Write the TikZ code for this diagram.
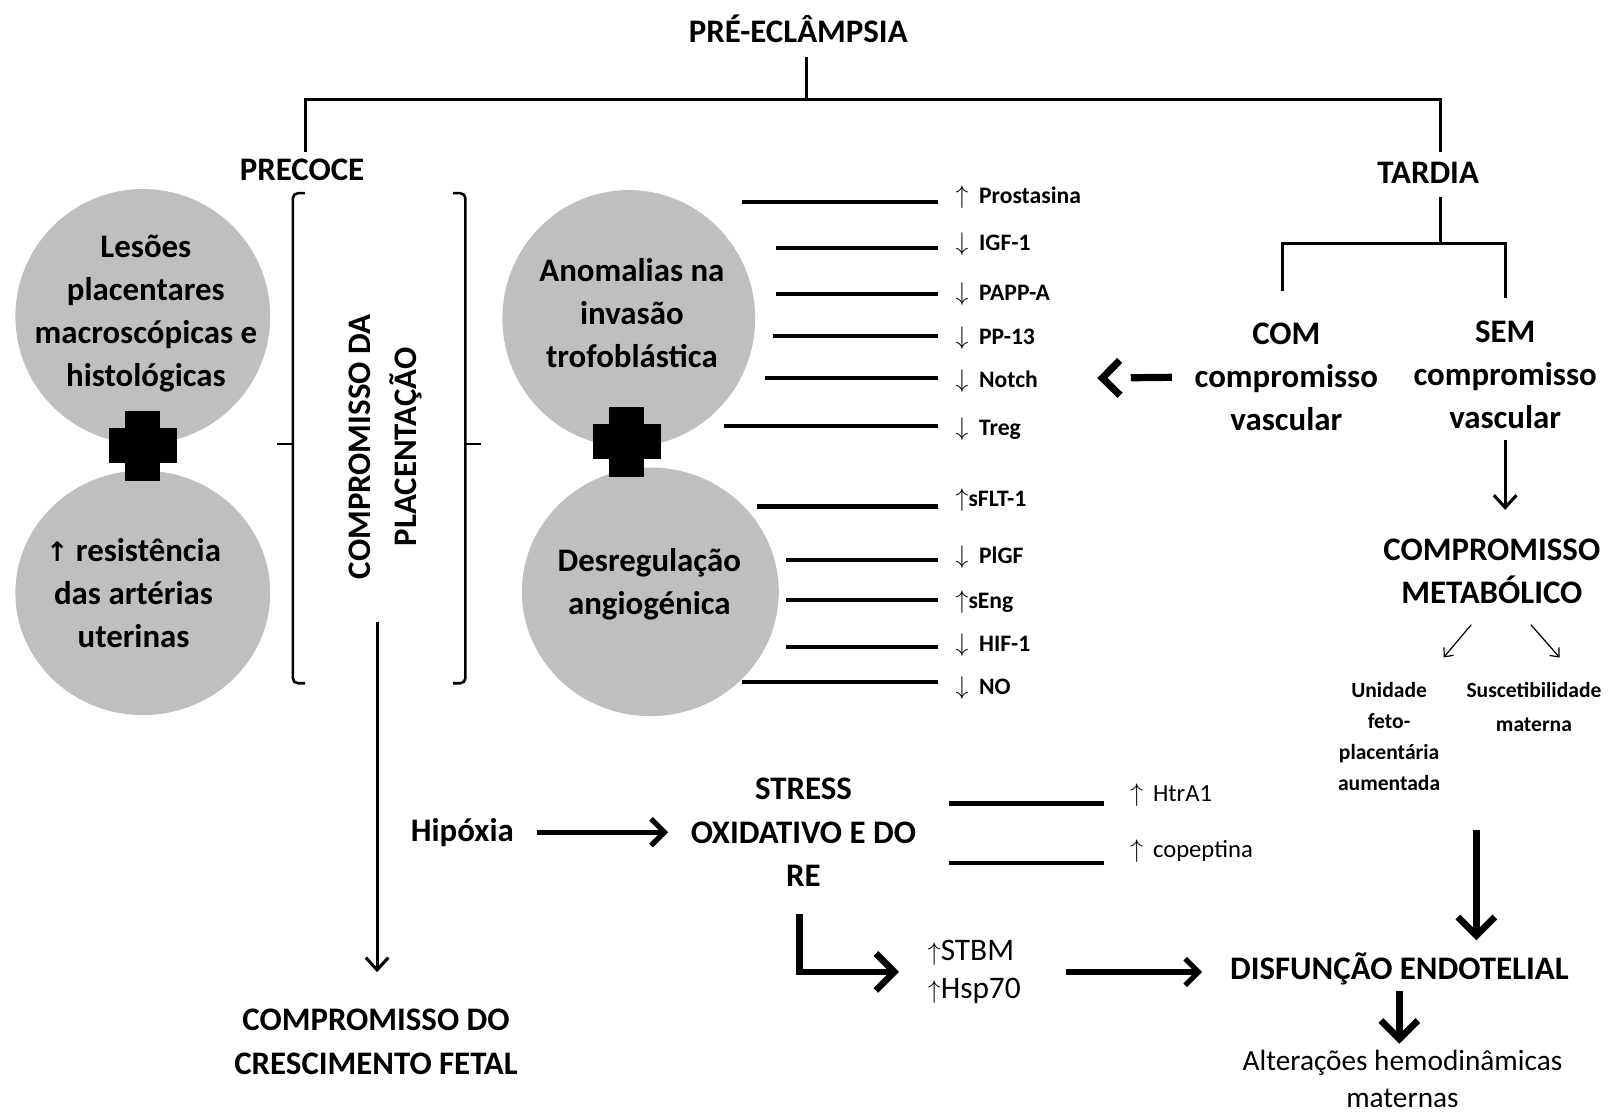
\documentclass[tikz,border=0pt]{standalone}
\usepackage{fontspec}
\setmainfont{Carlito}
\newfontfamily\arrowfont{DejaVu Sans}
\usetikzlibrary{arrows.meta,positioning,calc}
\definecolor{BlobGray}{RGB}{191,191,191}
\newcommand{\incr}{$\uparrow$}
\newcommand{\decr}{$\downarrow$}

\begin{document}
\begin{tikzpicture}[x=1pt,y=-1pt,
  headtxt/.style={font=\fontsize{32}{42}\selectfont\bfseries,
                  align=center,inner sep=0pt},
  smalltxt/.style={font=\fontsize{23}{30}\selectfont\bfseries,
                   align=center,inner sep=0pt},
  regtxt/.style={font=\fontsize{28.5}{37}\selectfont,
                 align=center,inner sep=0pt},
  tree/.style={line width=3pt},
  markline/.style={line width=4pt},
  bracket/.style={line width=2.5pt,rounded corners=5pt},
  arr/.style={line width=3pt,-{Straight Barb[length=12pt,width=22pt]}},
  midarr/.style={line width=5pt,-{Straight Barb[length=13pt,width=26pt]}},
  fatarr/.style={line width=6.5pt,-{Straight Barb[length=18pt,width=36pt]}},
  thinarr/.style={line width=1.2pt,-{Straight Barb[length=7pt,width=12pt]}}]
  \useasboundingbox (0,0) rectangle (1568,1082);

  %% Top of the tree
  \node[headtxt] (pe) at (777,28) {PRÉ-ECLÂMPSIA};
  \node[headtxt] (precoce) at (294,165) {PRECOCE};
  \node[headtxt] (tardia) at (1390,168) {TARDIA};
  \coordinate (pe-foot) at (785,55);
  \coordinate (pe-split) at (785,97);
  \coordinate (pre-top) at (297,148);
  \coordinate (tar-top) at (1402,148);
  \draw[tree] (pe-foot) -- (pe-split);
  \draw[tree] (pre-top) |- (pe-split) -| (tar-top);

  %% Late branch: with / without vascular damage
  \node[headtxt] (com) at (1252,367) {COM\\compromisso\\vascular};
  \node[headtxt] (sem) at (1465,365) {SEM\\compromisso\\vascular};
  \coordinate (tar-foot) at (1402,192);
  \coordinate (tar-split) at (1402,237);
  \coordinate (com-top) at (1248,283);
  \coordinate (sem-top) at (1465,290);
  \draw[tree] (tar-foot) -- (tar-split);
  \draw[tree] (com-top) |- (tar-split) -| (sem-top);

  %% Grey blobs, drawn first (behind the crosses)
  \fill[BlobGray] (139,308) ellipse[x radius=124,y radius=124];
  \fill[BlobGray] (139,577) ellipse[x radius=124,y radius=119];
  \fill[BlobGray] (612,310) ellipse[x radius=123,y radius=125];
  \fill[BlobGray] (633,576) ellipse[x radius=125,y radius=121];
  \foreach \cx/\cy in {139/434, 610/430}{
    \fill (\cx-17,\cy-34) rectangle (\cx+17,\cy+34);
    \fill (\cx-33,\cy-17) rectangle (\cx+33,\cy+17);
  }
  \node[headtxt] (lesoes) at (142,305)
       {Lesões\\placentares\\macroscópicas e\\histológicas};
  \node[headtxt] (resist) at (130,577)
       {{\arrowfont\bfseries\fontsize{26}{42}\selectfont ↑} resistência\\das artérias\\uterinas};
  \node[headtxt] (anom) at (615,305) {Anomalias na\\invasão\\trofoblástica};
  \node[headtxt] (desreg) at (632,569) {Desregulação\\angiogénica};

  %% Brackets round the placentation label
  \draw[bracket] (297,188) -- (285,188) -- (285,665) -- (297,665);
  \draw[line width=2.5pt] (285,432) -- (270,432);
  \draw[bracket] (441,188) -- (453,188) -- (453,665) -- (441,665);
  \draw[line width=2.5pt] (453,432) -- (468,432);
  \node[headtxt,rotate=90,font=\fontsize{32}{45}\selectfont\bfseries]
       (placenta) at (375,435) {COMPROMISSO DA\\PLACENTAÇÃO};

  %% Marker lines: name / line start x / line y / label y / label
  \foreach \nm/\xs/\ys/\yl/\txt in {
      prost/722/197/192/\incr\hspace{0.45em}Prostasina,
      igf/755/241/238/\decr\hspace{0.45em}IGF-1,
      papp/755/286/286/\decr\hspace{0.45em}PAPP-A,
      pp/752/327/329/\decr\hspace{0.45em}PP-13,
      notch/745/368/371/\decr\hspace{0.45em}Notch,
      treg/705/415/418/\decr\hspace{0.45em}Treg,
      sflt/737/493/487/\incr{}sFLT-1,
      plgf/765/545/542/\decr\hspace{0.45em}PlGF,
      seng/765/584/586/\incr{}sEng,
      hif/765/630/628/\decr\hspace{0.45em}HIF-1,
      no/722/664/670/\decr\hspace{0.45em}NO}{
    \coordinate (\nm-s) at (\xs,\ys);
    \node[smalltxt,anchor=west] (\nm) at (930,\yl) {\txt};
    \draw[markline,shorten >=17pt] (\nm-s) -- (\nm-s -| \nm.west);
  }

  %% Heavy dashed arrow back to the markers
  \coordinate (notch-tip) at (1068,368);
  \draw[line width=7pt,dash pattern=on 40pt off 200pt,
        -{Straight Barb[length=17pt,width=34pt]},shorten <=22pt]
       (com.west) -- (notch-tip);

  %% Early branch down to fetal growth
  \node[headtxt] (cresc) at (366,1014)
       {COMPROMISSO DO\\CRESCIMENTO FETAL};
  \coordinate (pl-foot) at (367,605);
  \draw[arr,shorten >=36pt] (pl-foot) -- (pl-foot |- cresc.north);

  %% Oxidative stress row
  \node[headtxt] (hip) at (450,810) {Hipóxia};
  \node[headtxt] (stress) at (782,810) {STRESS\\OXIDATIVO E DO\\RE};
  \draw[midarr,shorten <=22pt,shorten >=22pt] (hip.east) -- (stress.west);
  \node[smalltxt,font=\fontsize{24}{30}\selectfont,anchor=west]
       (htra) at (1100,774) {\incr\hspace{0.4em}HtrA1};
  \node[smalltxt,font=\fontsize{24}{30}\selectfont,anchor=west]
       (copep) at (1100,828) {\incr\hspace{0.4em}copeptina};
  \coordinate (htra-s) at (924,782);
  \coordinate (copep-s) at (924,840);
  \draw[markline,shorten >=25pt] (htra-s) -- (htra-s -| htra.west);
  \draw[markline,shorten >=25pt] (copep-s) -- (copep-s -| copep.west);

  \node[regtxt,font=\fontsize{30.5}{37}\selectfont,align=left,anchor=west]
       (stbm) at (903,946) {\incr STBM\\\incr Hsp70};
  \coordinate (st-foot) at (778,890);
  \draw[fatarr,shorten >=28pt] (st-foot) |- (stbm.west);

  %% Metabolic side
  \node[headtxt] (meta) at (1452,556) {COMPROMISSO\\METABÓLICO};
  \draw[arr,shorten <=10pt,shorten >=28pt] (sem.south) -- (sem.south |- meta.north);
  \node[smalltxt,font=\fontsize{21}{30}\selectfont\bfseries] (unid) at (1352,717)
       {Unidade\\feto-\\placentária\\aumentada};
  \node[smalltxt,font=\fontsize{21}{33}\selectfont\bfseries]
       (susc) at (1493,688) {Suscetibilidade\\materna};
  \coordinate (mt-l) at (1432,608);
  \coordinate (mt-r) at (1490,608);
  \coordinate (un-tip) at (1405,640);
  \coordinate (su-tip) at (1518,640);
  \draw[thinarr] (mt-l) -- (un-tip);
  \draw[thinarr] (mt-r) -- (su-tip);

  %% Endothelial dysfunction
  \node[headtxt] (disf) at (1362,943) {DISFUNÇÃO ENDOTELIAL};
  \draw[midarr,shorten <=44pt,shorten >=27pt]
       (stbm.east) -- (stbm.east -| disf.west);
  \coordinate (meta-foot) at (1437,808);
  \draw[fatarr,shorten >=12pt] (meta-foot) -- (meta-foot |- disf.north);
  \node[regtxt,font=\fontsize{28.5}{36}\selectfont] (alter) at (1365,1050)
       {Alterações hemodinâmicas\\maternas};
  \draw[fatarr,shorten <=6pt,shorten >=6pt] (disf.south) -- (disf.south |- alter.north);
\end{tikzpicture}
\end{document}
